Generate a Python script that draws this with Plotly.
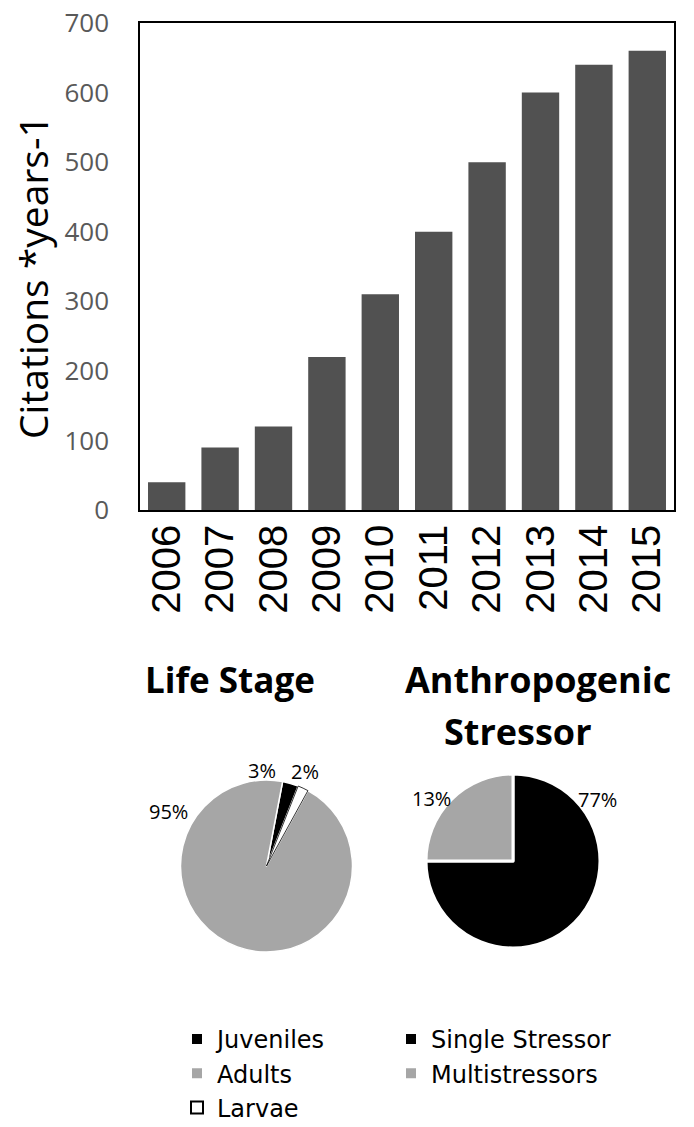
import plotly.graph_objects as go

# ---- data ----
years = ["2006", "2007", "2008", "2009", "2010", "2011", "2012", "2013", "2014", "2015"]
citations = [40, 90, 120, 220, 310, 400, 500, 600, 640, 660]

life_labels = ["Juveniles", "Adults", "Larvae"]
life_values = [3, 95, 2]
life_text = ["3%", "95%", "2%"]
life_colors = ["#000000", "#a6a6a6", "#ffffff"]

stress_labels = ["Single Stressor", "Multistressors"]
stress_values = [75, 25]          # slice sizes as drawn
stress_text = ["77%", "13%"]      # labels as printed on the chart
stress_colors = ["#000000", "#a6a6a6"]

W, H = 694, 1127
def px(x):
    return x / W
def py(y):
    return 1 - y / H

FONT = "Open Sans"

fig = go.Figure()

fig.add_trace(go.Bar(x=years, y=citations, marker=dict(color="#515151", line=dict(width=0)),
                     showlegend=False))

# life stage pie: order Juveniles, Adults, Larvae counterclockwise from end of juveniles slice
fig.add_trace(go.Pie(
    labels=life_labels, values=life_values, sort=False, direction="counterclockwise",
    rotation=360 * life_values[0] / sum(life_values),
    marker=dict(colors=life_colors, line=dict(color=["#ffffff", "#ffffff", "#000000"], width=[1.5, 1.5, 0.8])),
    textinfo="none", hoverinfo="label+percent",
    domain=dict(x=[px(180), px(353)], y=[py(952), py(780)]),
    legend="legend",
))

fig.add_trace(go.Pie(
    labels=stress_labels, values=stress_values, sort=False, direction="clockwise", rotation=0,
    marker=dict(colors=stress_colors, line=dict(color="#ffffff", width=3)),
    textinfo="none", hoverinfo="label+percent",
    domain=dict(x=[px(426), px(600)], y=[py(948), py(774)]),
    legend="legend2",
))

def note(text, x, y, size, angle=0):
    return dict(text=text, x=px(x), y=py(y), xref="paper", yref="paper", showarrow=False,
                xanchor="center", yanchor="middle", textangle=angle,
                font=dict(family=FONT, size=size, color="black"))

annos = []
annos.append(note("Citations *years-1", 32, 277, 39, angle=-90))
annos.append(note("<b>Life Stage</b>", 230, 679, 35))
annos.append(note("<b>Anthropogenic</b>", 538, 679, 36))
annos.append(note("<b>Stressor</b>", 518, 731, 36))
label_pos = [(262, 770), (168, 811), (305, 772)]
for t, (x, y) in zip(life_text, label_pos):
    annos.append(note(t, x, y, 20))
label_pos2 = [(597, 799), (431, 798)]
for t, (x, y) in zip(stress_text, label_pos2):
    annos.append(note(t, x, y, 20))

LEG_FONT = dict(family="DejaVu Sans", size=24, color="black")

fig.update_layout(
    width=W, height=H, margin=dict(l=0, r=0, t=0, b=0, autoexpand=False),
    paper_bgcolor="white", plot_bgcolor="white",
    bargap=0.3,
    xaxis=dict(domain=[px(140), px(674)], showline=True, mirror=True, linecolor="black", linewidth=1.5,
               ticks="", tickangle=-90, automargin=False, ticklabelstandoff=-3,
               tickfont=dict(family="Liberation Sans", size=40, color="black"),
               showgrid=False),
    yaxis=dict(domain=[py(510), py(23)], range=[0, 700], dtick=100, showline=True, mirror=True,
               linecolor="black", linewidth=1.5, showgrid=False, zeroline=False, ticks="",
               automargin=False, ticklabelstandoff=24,
               tickfont=dict(family=FONT, size=26, color="#595959")),
    legend=dict(x=px(177), y=py(1017), xanchor="left", yanchor="top",
                font=LEG_FONT, tracegroupgap=0, itemsizing="constant"),
    legend2=dict(x=px(391), y=py(1017), xanchor="left", yanchor="top",
                 font=LEG_FONT, tracegroupgap=0, itemsizing="constant"),
    annotations=annos,
    font=dict(family=FONT),
)

fig.write_html("out.html", config={"displayModeBar": False},
               post_script="document.body.style.margin='0';")
